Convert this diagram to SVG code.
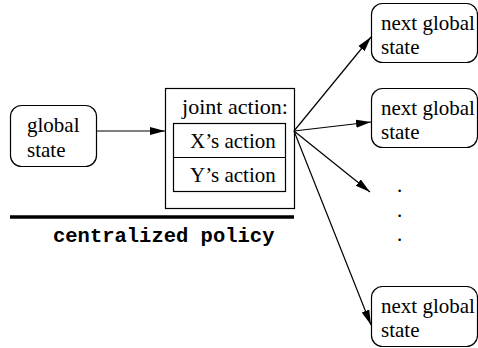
<svg xmlns="http://www.w3.org/2000/svg" width="478" height="348" viewBox="0 0 478 348">
<style>
.box{fill:#fff;stroke:#000;stroke-width:1.2}
.t{font-family:"Liberation Serif",serif;font-size:21px;fill:#000}
.m{font-family:"Liberation Mono",monospace;font-size:20.5px;font-weight:bold;fill:#000}
.c{stroke:#000;stroke-width:1.2;fill:none}
</style>
<defs>
<marker id="ah" markerWidth="16" markerHeight="10" refX="15" refY="5" orient="auto" markerUnits="userSpaceOnUse">
<path d="M0,1 L15,5 L0,9 Z" fill="#000"/>
</marker>
</defs>
<rect width="478" height="348" fill="#fff"/>
<g id="global-state">
<rect class="box" x="10.5" y="105.5" width="86" height="61" rx="11"/>
<text class="t" x="27" y="132">global</text>
<text class="t" x="27" y="157">state</text>
</g>
<g id="joint-action">
<rect class="box" x="165.5" y="88.5" width="129" height="120"/>
<text class="t" x="182" y="114" textLength="106" lengthAdjust="spacingAndGlyphs">joint action:</text>
<rect class="box" x="173.5" y="123.5" width="112" height="68"/>
<line class="c" x1="173.5" y1="157.5" x2="285.5" y2="157.5"/>
<text class="t" x="190" y="148">X’s action</text>
<text class="t" x="190" y="182">Y’s action</text>
</g>
<g id="policy">
<line x1="10" y1="217" x2="294" y2="217" stroke="#000" stroke-width="3.5"/>
<text class="m" x="53" y="242">centralized policy</text>
</g>
<g id="next1">
<rect class="box" x="371.5" y="3.5" width="106" height="59" rx="11"/>
<text class="t" x="381" y="30">next global</text>
<text class="t" x="381" y="54">state</text>
</g>
<g id="next2">
<rect class="box" x="371.5" y="88.5" width="106" height="59" rx="11"/>
<text class="t" x="381" y="115">next global</text>
<text class="t" x="381" y="139">state</text>
</g>
<g id="dots">
<text class="t" x="397" y="192">.</text>
<text class="t" x="397" y="217">.</text>
<text class="t" x="397" y="241">.</text>
</g>
<g id="next3">
<rect class="box" x="371.5" y="286.5" width="106" height="60" rx="11"/>
<text class="t" x="381" y="313">next global</text>
<text class="t" x="381" y="337">state</text>
</g>
<g id="connectors">
<line class="c" x1="96" y1="131" x2="165" y2="131" marker-end="url(#ah)"/>
<line class="c" x1="294" y1="131" x2="371" y2="37" marker-end="url(#ah)"/>
<line class="c" x1="294" y1="131" x2="371" y2="122" marker-end="url(#ah)"/>
<line class="c" x1="294" y1="131" x2="370" y2="192" marker-end="url(#ah)"/>
<line class="c" x1="294" y1="131" x2="371" y2="325" marker-end="url(#ah)"/>
</g>
</svg>
